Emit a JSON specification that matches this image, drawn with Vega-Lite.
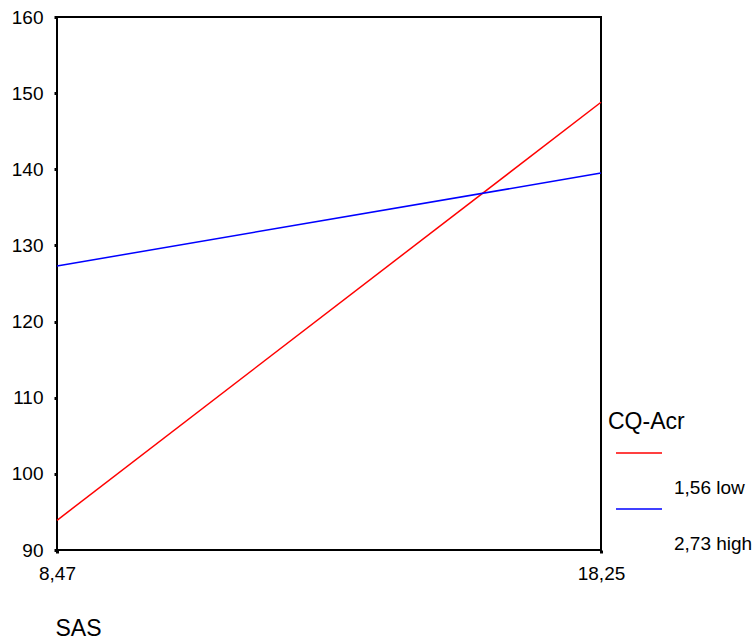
{
  "$schema": "https://vega.github.io/schema/vega-lite/v6.json",
  "autosize": {"type": "none"},
  "padding": {"left": 57, "top": 17, "right": 152, "bottom": 89},
  "width": 544,
  "height": 533,
  "background": "white",
  "config": {
    "font": "Liberation Sans",
    "view": {"stroke": "black", "strokeWidth": 2}
  },
  "data": {
    "values": [
      {"SAS": 8.47, "value": 93.9, "group": "1,56 low"},
      {"SAS": 18.25, "value": 148.8, "group": "1,56 low"},
      {"SAS": 8.47, "value": 127.3, "group": "2,73 high"},
      {"SAS": 18.25, "value": 139.5, "group": "2,73 high"}
    ]
  },
  "mark": {"type": "line", "strokeWidth": 1.5},
  "encoding": {
    "x": {
      "field": "SAS",
      "type": "quantitative",
      "scale": {"domain": [8.47, 18.25], "nice": false, "zero": false},
      "axis": {
        "values": [8.47, 18.25],
        "labelExpr": "replace(format(datum.value, '.2f'), '.', ',')",
        "labelFlush": false,
        "title": "SAS",
        "titleFontSize": 23,
        "titleFontWeight": "normal",
        "titleAnchor": "start",
        "titleAlign": "left",
        "titleBaseline": "alphabetic",
        "titlePadding": 52,
        "titleX": -2,
        "titleColor": "black",
        "labelFontSize": 19,
        "labelColor": "black",
        "labelPadding": 11,
        "domain": false,
        "grid": false,
        "tickSize": 3,
        "tickWidth": 3,
        "tickColor": "black"
      }
    },
    "y": {
      "field": "value",
      "type": "quantitative",
      "scale": {"domain": [90, 160], "nice": false, "zero": false},
      "axis": {
        "values": [90, 100, 110, 120, 130, 140, 150, 160],
        "title": null,
        "labelFontSize": 19,
        "labelColor": "black",
        "labelPadding": 11,
        "domain": false,
        "grid": false,
        "tickSize": 3,
        "tickWidth": 3,
        "tickColor": "black"
      }
    },
    "color": {
      "field": "group",
      "type": "nominal",
      "scale": {"domain": ["1,56 low", "2,73 high"], "range": ["#ff0000", "#0000ff"]},
      "legend": {
        "title": "CQ-Acr",
        "orient": "none",
        "legendX": 551,
        "legendY": 394,
        "padding": 0,
        "titleFontSize": 23,
        "titleFontWeight": "normal",
        "titleColor": "black",
        "titlePadding": 8,
        "symbolType": "M-2.3,0H2.3",
        "symbolSize": 400,
        "symbolStrokeWidth": 1.5,
        "symbolOffset": 20,
        "labelFontSize": 19,
        "labelColor": "black",
        "labelOffset": 24,
        "labelBaseline": "middle",
        "rowPadding": 0,
        "encode": {"labels": {"update": {"dy": {"value": 35}}}}
      }
    }
  }
}
